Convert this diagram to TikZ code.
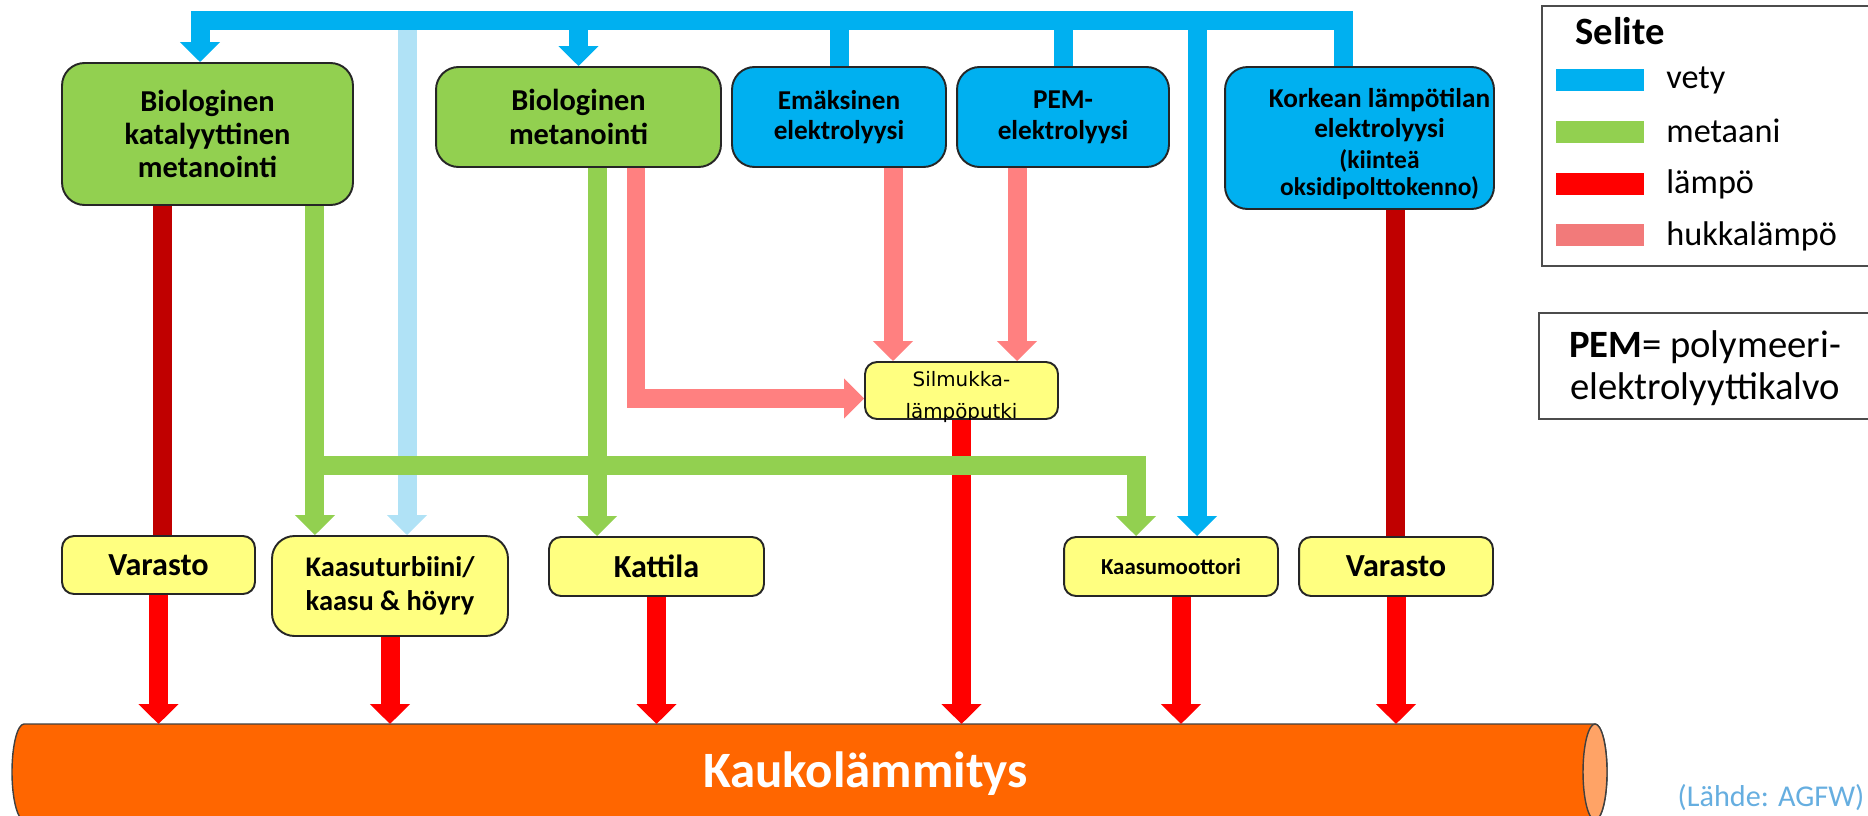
\documentclass[tikz,border=0pt]{standalone}
\usepackage{fontspec}
\setmainfont{Carlito}
\newfontfamily\dejavu{DejaVu Sans}
\usetikzlibrary{arrows.meta}

\definecolor{cVety}{HTML}{00B0F0}
\definecolor{cVetyLight}{HTML}{B0E2F6}
\definecolor{cMetaani}{HTML}{92D050}
\definecolor{cLampo}{HTML}{FF0000}
\definecolor{cLampoDark}{HTML}{C00000}
\definecolor{cHukka}{HTML}{FF8080}
\definecolor{cKeltainen}{HTML}{FFFF80}
\definecolor{cBorder}{HTML}{262626}
\definecolor{cPipe}{HTML}{FF6600}
\definecolor{cPipeEnd}{HTML}{FFA366}
\definecolor{cLahde}{HTML}{66AEE0}

\newcommand{\pieni}{\fontsize{14.5}{16}\selectfont}

\tikzset{
  flow/.style={line width=0.38cm},
  flowtip/.style={-{Triangle[width=0.78cm, length=0.4cm]}},
  vety/.style={flow, draw=cVety},
  vetyvaalea/.style={flow, draw=cVetyLight},
  metaani/.style={flow, draw=cMetaani},
  lampo/.style={flow, draw=cLampo},
  lampotumma/.style={flow, draw=cLampoDark},
  hukka/.style={flow, draw=cHukka},
  prosessi/.style={draw=cBorder, line width=1.1pt, rounded corners=0.45cm, align=center,
    inner sep=0pt, font=\bfseries\fontsize{15.5}{17.5}\selectfont},
  vihrea/.style={prosessi, fill=cMetaani, font=\bfseries\fontsize{17.3}{19}\selectfont},
  sininen/.style={prosessi, fill=cVety},
  keltainen/.style={prosessi, fill=cKeltainen, rounded corners=0.24cm},
  legendbox/.style={draw=black!70, line width=1.1pt, inner sep=0pt},
  swatch/.style={minimum width=1.76cm, minimum height=0.44cm, inner sep=0pt},
  legendtext/.style={font=\fontsize{19.5}{24}\selectfont, anchor=base west, inner sep=0pt},
}

\begin{document}
\begin{tikzpicture}[x=0.02cm, y=-0.02cm]
  \useasboundingbox (0,0) rectangle (1868,815);

  % Prosessit ylhaalla
  \node[vihrea, minimum width=5.82cm, minimum height=2.84cm] (b1) at (207.5,134) {Biologinen\\katalyyttinen\\metanointi};
  \node[vihrea, minimum width=5.70cm, minimum height=2.00cm] (b2) at (578.5,117) {Biologinen\\metanointi};
  \node[sininen, minimum width=4.28cm, minimum height=2.00cm] (b3) at (839,117) {Emäksinen\\elektrolyysi};
  \node[sininen, minimum width=4.24cm, minimum height=2.00cm] (b4) at (1063,117) {PEM-\\elektrolyysi};
  \node[sininen, minimum width=5.38cm, minimum height=2.84cm,
    label={[align=center, font=\bfseries\fontsize{15.5}{17.5}\selectfont, xshift=0.4cm, yshift=-0.12cm]center:Korkean lämpötilan\\elektrolyysi\\{\pieni (kiinteä}\\[-2pt]{\pieni oksidipolttokenno)}}]
    (b5) at (1359.5,138) {};

  % Silmukkalampoputki
  \node[keltainen, minimum width=3.86cm, minimum height=1.14cm,
    label={[align=center, font=\dejavu\fontsize{11.3}{17.8}\selectfont, yshift=-0.13cm]center:Silmukka-\\lämpöputki}]
    (silm) at (961.5,390.5) {};

  % Laitokset alhaalla
  \node[keltainen, minimum width=3.86cm, minimum height=1.16cm, font=\bfseries\fontsize{18.3}{20}\selectfont] (var1) at (158.5,565) {Varasto};
  \node[keltainen, rounded corners=0.45cm, minimum width=4.72cm, minimum height=2.00cm, font=\bfseries\fontsize{16.2}{19.5}\selectfont] (kt) at (390,586) {Kaasuturbiini/\\kaasu \& höyry};
  \node[keltainen, minimum width=4.30cm, minimum height=1.18cm, font=\bfseries\fontsize{18.3}{20}\selectfont] (kattila) at (656.5,566.5) {Kattila};
  \node[keltainen, minimum width=4.28cm, minimum height=1.18cm, font=\bfseries\fontsize{13}{14}\selectfont] (km) at (1171,566.5) {Kaasumoottori};
  \node[keltainen, minimum width=3.88cm, minimum height=1.18cm, font=\bfseries\fontsize{18.3}{20}\selectfont] (var2) at (1396,566.5) {Varasto};

  % Kaukolampoputki
  \coordinate (pipetop) at (0,724);
  \filldraw[fill=cPipe, draw=black!75, line width=0.8pt] (1595,724) -- (24,724)
    arc[start angle=270, end angle=90, x radius=12, y radius=48] -- (1595,820)
    arc[start angle=90, end angle=-90, x radius=12, y radius=48] -- cycle;
  \filldraw[fill=cPipeEnd, draw=black!75, line width=0.8pt] (1595,772) ellipse [x radius=12, y radius=48];
  \node[font=\bfseries\fontsize{29}{31}\selectfont, text=white, anchor=base] (kauko) at (865.5,787) {Kaukolämmitys};

  % Liitospisteet
  \coordinate (hbar) at (0,20);
  \coordinate (gbar) at (0,465);
  \coordinate (vb1) at ([xshift=-0.15cm]b1.north);
  \coordinate (vb5) at ([xshift=-0.33cm]b5.north);
  \coordinate (vkm) at ([xshift=0.52cm]km.north);
  \coordinate (vkt) at ([xshift=0.34cm]kt.north);
  \coordinate (gb1) at ([xshift=2.15cm]b1.south);
  \coordinate (gb2) at ([xshift=0.37cm]b2.south);
  \coordinate (gkm) at ([xshift=-0.7cm]km.north);
  \coordinate (wb2) at ([xshift=1.15cm]b2.south);
  \coordinate (wb3) at ([xshift=1.08cm]b3.south);
  \coordinate (wb4) at ([xshift=-0.92cm]b4.south);
  \coordinate (wsilm) at ([yshift=-0.16cm]silm.west);
  \coordinate (rb1) at ([xshift=-0.91cm]b1.south);
  \coordinate (rb5) at ([xshift=0.71cm]b5.south);

  % Vety
  \draw[vetyvaalea, flowtip] (vkt |- hbar) -- (vkt);
  \draw[vety, flowtip] (vb5) |- (vb1 |- hbar) -- (vb1);
  \draw[vety, flowtip] (b2.north |- hbar) -- (b2.north);
  \draw[vety] (b3.north) -- (b3.north |- hbar);
  \draw[vety] (b4.north) -- (b4.north |- hbar);
  \draw[vety, flowtip] (vkm |- hbar) -- (vkm);

  % Hukkalampo
  \draw[hukka, flowtip] (wb2) |- (wsilm);
  \draw[hukka, flowtip] (wb3) -- (wb3 |- silm.north);
  \draw[hukka, flowtip] (wb4) -- (wb4 |- silm.north);

  % Lampo
  \draw[lampotumma] (rb1) -- (rb1 |- var1.north);
  \draw[lampotumma] (rb5) -- (rb5 |- var2.north);
  \draw[lampo, flowtip] (var1.south) -- (var1.south |- pipetop);
  \draw[lampo, flowtip] (kt.south) -- (kt.south |- pipetop);
  \draw[lampo, flowtip] (kattila.south) -- (kattila.south |- pipetop);
  \draw[lampo, flowtip] (silm.south) -- (silm.south |- pipetop);
  \draw[lampo, flowtip] ([xshift=0.2cm]km.south) -- ([xshift=0.2cm]km.south |- pipetop);
  \draw[lampo, flowtip] (var2.south) -- (var2.south |- pipetop);

  % Metaani
  \draw[metaani, flowtip] (gb1) -- (gb1 |- kt.north);
  \draw[metaani, flowtip] (gb1 |- gbar) -| (gkm);
  \draw[metaani, flowtip] (gb2) -- (gb2 |- kattila.north);

  % Selite
  \node[legendbox, anchor=north west, minimum width=6.7cm, minimum height=5.2cm] (legend) at (1541,5) {};
  \node[font=\bfseries\fontsize{22}{24}\selectfont, anchor=base west, inner sep=0pt] (selite) at (1575,44) {Selite};
  \node[swatch, fill=cVety] (svety) at (1600,80) {};
  \node[swatch, fill=cMetaani] (smetaani) at (1600,132) {};
  \node[swatch, fill=cLampo] (slampo) at (1600,184) {};
  \node[swatch, fill=cHukka!95!black] (shukka) at (1600,235) {};
  \node[legendtext] (tvety) at (1666,88) {vety};
  \node[legendtext] (tmetaani) at (1666,142) {metaani};
  \node[legendtext] (tlampo) at (1666,193) {lämpö};
  \node[legendtext] (thukka) at (1666,245) {hukkalämpö};

  % PEM-selitys
  \node[legendbox, anchor=north west, minimum width=6.74cm, minimum height=2.12cm] (pembox) at (1538,312) {};
  \node[font=\fontsize{22}{24}\selectfont, align=center] (pemtext) at (1705,368) {\textbf{PEM}= polymeeri-\\elektrolyyttikalvo};

  % Lahde
  \node[font=\fontsize{17.2}{20}\selectfont, text=cLahde, anchor=base] (lahde) at (1771,806) {(Lähde: AGFW)};
\end{tikzpicture}
\end{document}
